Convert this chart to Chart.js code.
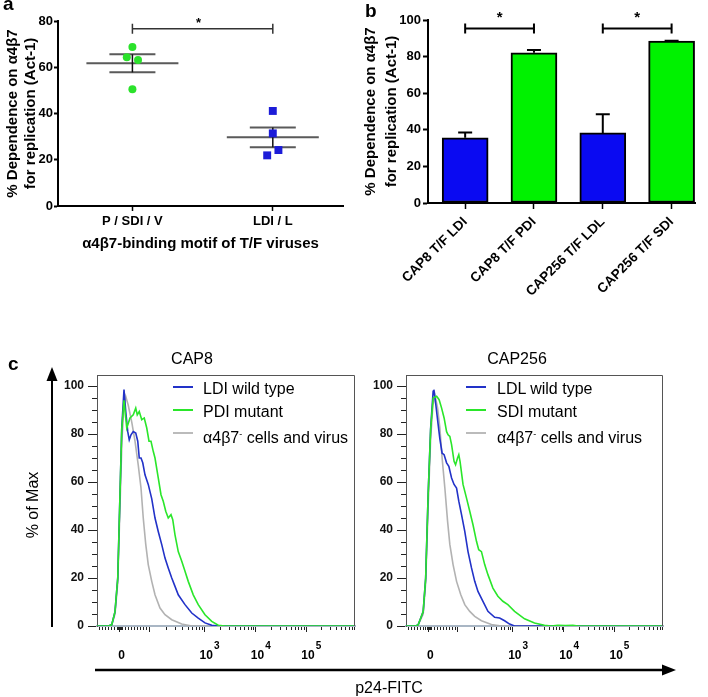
<!DOCTYPE html>
<html>
<head>
<meta charset="utf-8">
<script src="https://cdn.jsdelivr.net/npm/chart.js@4.4.0/dist/chart.umd.min.js"></script>
<style>
  body { margin: 0; background: #fff; }
  #page { position: relative; width: 708px; height: 697px; overflow: hidden; background: #fff;
          font-family: "Liberation Sans", Arial, sans-serif; color: #000; }
  #page canvas { position: absolute; left: 0; top: 0; }
  .txt { position: absolute; white-space: nowrap; }
  .panel { font-size: 19px; font-weight: bold; line-height: 19px; }
  .ttl { font-size: 16px; line-height: 16px; transform: translateX(-50%); }
  .leg { font-size: 16px; line-height: 23px; }
  .legline { position: absolute; width: 20px; height: 2px; }
  sup { font-size: 9px; vertical-align: 6px; }
</style>
</head>
<body>
<div id="page">
  <canvas id="chartA" width="708" height="697"></canvas>
  <canvas id="chartB" width="708" height="697"></canvas>
  <canvas id="chartC1" width="708" height="697"></canvas>
  <canvas id="chartC2" width="708" height="697"></canvas>

  <svg width="708" height="697" style="position:absolute;left:0;top:0">
    <line x1="52" y1="378" x2="52" y2="627" stroke="#000" stroke-width="2"/>
    <polygon points="52,367 46.5,381 57.5,381" fill="#000"/>
    <line x1="95" y1="670" x2="664" y2="670" stroke="#000" stroke-width="2.5"/>
    <polygon points="676,670 662,664.5 662,675.5" fill="#000"/>
  </svg>

  <div class="txt panel" style="left:3px;top:-6px">a</div>
  <div class="txt panel" style="left:365px;top:1px">b</div>
  <div class="txt panel" style="left:8px;top:354px">c</div>

  <div class="txt ttl" style="left:192px;top:351px">CAP8</div>
  <div class="txt ttl" style="left:517px;top:351px">CAP256</div>

  <div class="txt" style="left:33px;top:505px;font-size:16px;line-height:16px;transform:translate(-50%,-50%) rotate(-90deg)">% of Max</div>
  <div class="txt ttl" style="left:389px;top:680px">p24-FITC</div>
</div>

<script>
// ---- panel a : dot plot ----
const motifGroups = ['P / SDI / V', 'LDI / L']
const pdiX = [1.0, 0.96, 1.04, 1.0]
const pdiVals = [68.8, 64.3, 63.1, 50.5]
const ldiX = [2.0, 2.0, 2.04, 1.96]
const ldiVals = [41.1, 31.4, 24.2, 21.9]
const groupMeans = [61.7, 29.7]
const groupSem = [3.9, 4.3]
const sigA = [1, 2, 76.7]

// ---- panel b : bar chart ----
const virusNames = ['CAP8 T/F LDI', 'CAP8 T/F PDI', 'CAP256 T/F LDL', 'CAP256 T/F SDI']
const dependence = [35.6, 82.1, 38.3, 88.5]
const dependenceErr = [2.9, 1.5, 10.2, 0.2]
const sigB = [[1, 2, 95.4], [3, 4, 95.4]]

// ---- panel c : flow histograms (x = display channel, y = % of max) ----
const flowMajorCh = [90, 208, 429, 634, 836]
const flowMajorBase = ['0', '', '10', '10', '10']
const flowMajorExp = ['', '', '3', '4', '5']
const flowYTicks = [0, 20, 40, 60, 80, 100]

const cap8LdiCh = [0, 45, 59, 72, 83, 92, 99, 108, 115, 123, 129, 136, 145, 155, 163, 169, 176, 183, 192, 205, 219, 232, 245, 259, 272, 285, 299, 312, 325, 352, 379, 405, 432, 459, 485, 1032]
const cap8LdiPct = [0, 0, 0.5, 6, 20, 55, 82.5, 98.5, 89.4, 81, 77.6, 79.7, 81, 80.4, 77, 70, 70, 68, 63, 59, 53, 45, 39.4, 33.9, 28.3, 24.2, 20, 16.5, 13, 8.9, 5.4, 3.3, 1.3, 0.3, 0, 0]
const cap8PdiCh = [0, 45, 59, 72, 83, 92, 99, 108, 119, 132, 145, 155, 161, 169, 179, 189, 199, 208, 216, 225, 232, 245, 256, 265, 275, 285, 296, 303, 312, 325, 339, 352, 365, 385, 405, 432, 459, 485, 512, 1032]
const cap8PdiPct = [0, 0, 0.5, 6, 20, 55, 82, 94, 82.5, 86.7, 88, 90.8, 88, 89.4, 86, 86.7, 82.5, 77, 77, 72.8, 70, 61.7, 54.7, 52, 47.8, 45, 46.4, 44.3, 38, 31, 27, 22.8, 18.6, 13, 8.9, 4.7, 1.9, 0.3, 0, 0]
const cap8NegCh = [0, 45, 59, 72, 83, 92, 100, 108, 115, 125, 139, 152, 165, 176, 185, 195, 205, 219, 232, 252, 272, 299, 339, 379, 1032]
const cap8NegPct = [0, 0, 0.5, 5, 18, 50, 78, 92, 95.7, 92, 85, 77, 67, 57.5, 45, 34, 25.6, 18.6, 13, 7.5, 4.7, 2.6, 0.8, 0, 0]

const cap256LdlCh = [0, 40, 49, 69, 79, 89, 99, 109, 112, 120, 129, 136, 145, 153, 163, 172, 183, 193, 203, 212, 223, 236, 249, 263, 276, 289, 309, 329, 356, 376, 396, 416, 436, 1032]
const cap256LdlPct = [0, 0, 0.5, 6, 20, 55, 82.5, 97.8, 98.5, 92, 84, 78, 72, 71.4, 68, 66.5, 61.7, 59, 57.5, 52, 46.4, 39.4, 31, 24.2, 18.6, 14.4, 10.3, 6.1, 3.6, 3.3, 2.2, 0.8, 0, 0]
const cap256SdiCh = [0, 40, 49, 69, 79, 89, 99, 109, 123, 133, 143, 153, 163, 169, 176, 183, 193, 199, 207, 212, 217, 229, 243, 256, 269, 283, 292, 303, 316, 329, 349, 369, 389, 409, 436, 476, 516, 556, 583, 610, 640, 670, 690, 1032]
const cap256SdiPct = [0, 0, 0.5, 6, 20, 55, 82, 95, 95.7, 94.3, 90.8, 86.7, 81, 79.7, 79, 75.6, 68.6, 67.2, 70, 71.4, 68.6, 59, 53.3, 47.8, 42.2, 35.3, 31.8, 31, 25.6, 21.4, 15.8, 12.4, 10.3, 8.9, 6.1, 3, 1.25, 0.3, 0, 0.3, 0.2, 0.3, 0, 0]
const cap256NegCh = [0, 40, 49, 69, 79, 89, 99, 108, 116, 127, 136, 145, 156, 167, 176, 189, 203, 220, 236, 256, 276, 303, 343, 383, 1032]
const cap256NegPct = [0, 0, 0.5, 5, 18, 50, 78, 92, 96.4, 90.8, 82.5, 70, 57.5, 43.6, 34, 25.6, 18.6, 13, 8.9, 6.1, 4, 2.2, 0.6, 0, 0]

const cap8Labels = ['LDI wild type', 'PDI mutant', 'α4β7<sup>-</sup> cells and virus']
const cap256Labels = ['LDL wild type', 'SDI mutant', 'α4β7<sup>-</sup> cells and virus']

const FONT = '"Liberation Sans", Arial, sans-serif'
const BLUE = '#2232c8', GREEN = '#2ae62a', GREY = 'rgba(170,170,170,0.9)'
Chart.defaults.font.family = FONT
Chart.defaults.color = '#000'

const bold = size => ({ family: FONT, size: size, weight: 'bold' })
const zip = (xs, ys) => xs.map((x, i) => ({ x: x, y: ys[i] }))
const flat = s => { s.paddingLeft = 0; s.paddingRight = 0; s.paddingTop = 0; s.paddingBottom = 0 }
const baseOpts = { responsive: false, maintainAspectRatio: false, animation: false, events: [] }
const noPlugins = { legend: { display: false }, tooltip: { enabled: false } }

// mean / sem lines and bracket for panel a
const dotSummary = {
  id: 'dotSummary',
  beforeDatasetsDraw(chart) {
    const { ctx, scales: { x, y } } = chart
    ctx.save()
    groupMeans.forEach((m, i) => {
      const cx = x.getPixelForValue(i + 1)
      const ym = y.getPixelForValue(m)
      const yt = y.getPixelForValue(m + groupSem[i])
      const yb = y.getPixelForValue(m - groupSem[i])
      ctx.strokeStyle = '#5a5a5a'
      ctx.lineWidth = 2
      ctx.beginPath()
      ctx.moveTo(cx - 46, ym); ctx.lineTo(cx + 46, ym)
      ctx.moveTo(cx - 23, yt); ctx.lineTo(cx + 23, yt)
      ctx.moveTo(cx - 23, yb); ctx.lineTo(cx + 23, yb)
      ctx.stroke()
      ctx.strokeStyle = '#111'
      ctx.lineWidth = 1.5
      ctx.beginPath(); ctx.moveTo(cx, yt); ctx.lineTo(cx, yb); ctx.stroke()
    })
    const x1 = x.getPixelForValue(sigA[0]), x2 = x.getPixelForValue(sigA[1]), ys = y.getPixelForValue(sigA[2])
    ctx.strokeStyle = '#333'
    ctx.lineWidth = 1.5
    ctx.beginPath()
    ctx.moveTo(x1, ys); ctx.lineTo(x2, ys)
    ctx.moveTo(x1, ys - 5); ctx.lineTo(x1, ys + 5)
    ctx.moveTo(x2, ys - 5); ctx.lineTo(x2, ys + 5)
    ctx.stroke()
    ctx.fillStyle = '#000'
    ctx.font = 'bold 13px ' + FONT
    ctx.textAlign = 'center'
    ctx.fillText('*', (x1 + x2) / 2 - 4, ys - 2)
    ctx.restore()
  }
}

// error bars and brackets for panel b
const barExtras = {
  id: 'barExtras',
  afterDatasetsDraw(chart) {
    const { ctx, scales: { x, y } } = chart
    ctx.save()
    ctx.strokeStyle = '#000'
    ctx.lineWidth = 2
    ctx.beginPath()
    dependence.forEach((v, i) => {
      const cx = x.getPixelForValue(i + 1)
      const y0 = y.getPixelForValue(v), y1 = y.getPixelForValue(v + dependenceErr[i])
      ctx.moveTo(cx, y0); ctx.lineTo(cx, y1)
      ctx.moveTo(cx - 7, y1); ctx.lineTo(cx + 7, y1)
    })
    sigB.forEach(s => {
      const x1 = x.getPixelForValue(s[0]), x2 = x.getPixelForValue(s[1]), ys = y.getPixelForValue(s[2])
      ctx.moveTo(x1, ys); ctx.lineTo(x2, ys)
      ctx.moveTo(x1, ys - 5); ctx.lineTo(x1, ys + 5)
      ctx.moveTo(x2, ys - 5); ctx.lineTo(x2, ys + 5)
    })
    ctx.stroke()
    ctx.fillStyle = '#000'
    ctx.font = 'bold 15px ' + FONT
    ctx.textAlign = 'center'
    sigB.forEach(s => {
      const x1 = x.getPixelForValue(s[0]), x2 = x.getPixelForValue(s[1])
      ctx.fillText('*', (x1 + x2) / 2, y.getPixelForValue(s[2]) - 6)
    })
    ctx.restore()
  }
}

// minor ticks between the major flow channels (biexponential look)
const flowMax = 1032
const flowMinor = (() => {
  const out = []
  const step = (flowMajorCh[1] - flowMajorCh[0]) / 10
  for (let k = -7; k <= 9; k++) if (k !== 0) out.push(flowMajorCh[0] + k * step)
  ;[-0.6, -0.3, 0.3, 0.6].forEach(d => out.push(flowMajorCh[0] + d * step))
  for (let i = 1; i < flowMajorCh.length; i++) {
    const p0 = flowMajorCh[i]
    const w = i + 1 < flowMajorCh.length ? flowMajorCh[i + 1] - p0 : p0 - flowMajorCh[i - 1]
    for (let k = 2; k <= 9; k++) {
      const v = p0 + Math.log10(k) * w
      if (v < flowMax) out.push(v)
    }
  }
  return out
})()

const flowFrame = {
  id: 'flowFrame',
  afterDraw(chart) {
    const { ctx, chartArea: a, scales: { x, y } } = chart
    ctx.save()
    ctx.strokeStyle = '#555'
    ctx.lineWidth = 1
    ctx.beginPath()
    ctx.moveTo(a.left, a.top + 0.5); ctx.lineTo(a.right - 0.5, a.top + 0.5); ctx.lineTo(a.right - 0.5, a.bottom)
    ctx.stroke()
    ctx.strokeStyle = '#222'
    ctx.beginPath()
    flowMinor.forEach(v => {
      const px = Math.round(x.getPixelForValue(v)) + 0.5
      ctx.moveTo(px, a.bottom + 1); ctx.lineTo(px, a.bottom + 4)
    })
    for (let v = 5; v < 100; v += 5) {
      if (v % 20 === 0) continue
      const py = Math.round(y.getPixelForValue(v)) + 0.5
      ctx.moveTo(a.left - 5, py); ctx.lineTo(a.left, py)
    }
    ctx.stroke()
    ctx.fillStyle = '#000'
    flowMajorCh.forEach((v, i) => {
      if (!flowMajorBase[i]) return
      const px = x.getPixelForValue(v)
      ctx.font = 'bold 12px ' + FONT
      ctx.textAlign = 'center'
      ctx.fillText(flowMajorBase[i], px + 2, a.bottom + 33)
      if (flowMajorExp[i]) {
        const w = ctx.measureText(flowMajorBase[i]).width
        ctx.font = 'bold 10px ' + FONT
        ctx.textAlign = 'left'
        ctx.fillText(flowMajorExp[i], px + 2 + w / 2 + 1, a.bottom + 23)
      }
    })
    ctx.restore()
  }
}

// panel a
new Chart(document.getElementById('chartA'), {
  type: 'scatter',
  data: {
    datasets: [
      { data: zip(pdiX, pdiVals), pointStyle: 'circle', pointRadius: 4, backgroundColor: '#2be22b', borderColor: '#2be22b', borderWidth: 0 },
      { data: zip(ldiX, ldiVals), pointStyle: 'rect', pointRadius: 5.6, backgroundColor: '#1c1cd8', borderColor: '#1c1cd8', borderWidth: 0 }
    ]
  },
  options: Object.assign({}, baseOpts, {
    layout: { padding: { left: 4, top: 21, right: 365, bottom: 441 } },
    plugins: noPlugins,
    scales: {
      x: {
        type: 'linear', min: 0.47, max: 2.5,
        afterBuildTicks: s => { s.ticks = motifGroups.map((_, i) => ({ value: i + 1 })) },
        ticks: { callback: v => motifGroups[v - 1], font: bold(13), color: '#000', padding: 3, autoSkip: false, maxRotation: 0 },
        grid: { drawOnChartArea: false, tickLength: 5, tickColor: '#000', tickWidth: 1.5 },
        border: { color: '#000', width: 2 },
        title: { display: true, text: 'α4β7-binding motif of T/F viruses', font: bold(15), color: '#000', padding: { top: 0, bottom: 3 } },
        afterFit: s => { s.height = 50; flat(s) }
      },
      y: {
        min: 0, max: 80,
        ticks: { stepSize: 20, font: bold(13), color: '#000', padding: 1 },
        grid: { drawOnChartArea: false, tickLength: 4, tickColor: '#000', tickWidth: 2 },
        border: { color: '#000', width: 2 },
        title: { display: true, text: ['% Dependence on α4β7', 'for replication (Act-1)'], font: Object.assign(bold(15), { lineHeight: 1.2 }), color: '#000', padding: 0 },
        afterFit: s => { s.width = 54; flat(s) }
      }
    }
  }),
  plugins: [dotSummary]
})

// panel b
const barFill = ['#0a0af2', '#00f200', '#0a0af2', '#00f200']
new Chart(document.getElementById('chartB'), {
  type: 'bar',
  data: {
    datasets: [{
      data: zip(virusNames.map((_, i) => i + 1), dependence),
      backgroundColor: barFill, borderColor: '#000', borderWidth: 2, borderSkipped: false, barThickness: 46
    }]
  },
  options: Object.assign({}, baseOpts, {
    layout: { padding: { left: 360, top: 20, right: 13, bottom: 399 } },
    plugins: noPlugins,
    scales: {
      x: {
        type: 'linear', min: 0.46, max: 4.34, offset: false,
        afterBuildTicks: s => { s.ticks = virusNames.map((_, i) => ({ value: i + 1 })) },
        ticks: { callback: v => virusNames[v - 1], font: bold(13.5), color: '#000', padding: 5, autoSkip: false, minRotation: 45, maxRotation: 45 },
        grid: { offset: false, drawOnChartArea: false, tickLength: 6, tickColor: '#000', tickWidth: 1.5 },
        border: { color: '#000', width: 2 },
        afterFit: s => { s.height = 95; flat(s) }
      },
      y: {
        min: 0, max: 100,
        ticks: { stepSize: 20, font: bold(13), color: '#000', padding: 2 },
        grid: { drawOnChartArea: false, tickLength: 5, tickColor: '#000', tickWidth: 2 },
        border: { color: '#000', width: 2 },
        title: { display: true, text: ['% Dependence on α4β7', 'for replication (Act-1)'], font: Object.assign(bold(15), { lineHeight: 1.4 }), color: '#000', padding: 0 },
        afterFit: s => { s.width = 68; flat(s) }
      }
    }
  }),
  plugins: [barExtras]
})

// panel c
function flowChart(id, series, padLeft, axisWidth, padRight) {
  return new Chart(document.getElementById(id), {
    type: 'line',
    data: {
      datasets: series.map(s => ({
        data: zip(s[0], s[1]), borderColor: s[2], borderWidth: 1.6, pointRadius: 0, tension: 0, fill: false
      }))
    },
    options: Object.assign({}, baseOpts, {
      layout: { padding: { left: padLeft, top: 375, right: padRight, bottom: 31 } },
      plugins: noPlugins,
      scales: {
        x: {
          type: 'linear', min: 0, max: flowMax,
          afterBuildTicks: s => { s.ticks = flowMajorCh.map(v => ({ value: v })) },
          ticks: { display: false },
          grid: { drawOnChartArea: false, tickLength: 6, tickColor: '#222', tickWidth: 1 },
          border: { color: '#a9b6c4', width: 2 },
          afterFit: s => { s.height = 40; flat(s) }
        },
        y: {
          min: 0, max: 104.6,
          afterBuildTicks: s => { s.ticks = flowYTicks.map(v => ({ value: v })) },
          ticks: { font: bold(12), color: '#111', padding: 4 },
          grid: { drawOnChartArea: false, tickLength: 9, tickColor: '#222', tickWidth: 1 },
          border: { color: '#555', width: 1 },
          afterFit: s => { s.width = axisWidth; flat(s) }
        }
      }
    }),
    plugins: [flowFrame]
  })
}

// draw order: green, blue, grey on top
flowChart('chartC1', [[cap8PdiCh, cap8PdiPct, GREEN], [cap8LdiCh, cap8LdiPct, BLUE], [cap8NegCh, cap8NegPct, GREY]], 50, 47, 353)
flowChart('chartC2', [[cap256SdiCh, cap256SdiPct, GREEN], [cap256LdlCh, cap256LdlPct, BLUE], [cap256NegCh, cap256NegPct, GREY]], 360, 46, 45)

// legends inside the flow plots
const legendColors = [BLUE, GREEN, '#bbbbbb']
const addLegend = (labels, lineX, textX) => {
  const page = document.getElementById('page')
  labels.forEach((lab, i) => {
    const line = document.createElement('div')
    line.className = 'legline'
    line.style.left = lineX + 'px'
    line.style.top = (386 + i * 23) + 'px'
    line.style.background = legendColors[i]
    page.appendChild(line)
    const t = document.createElement('div')
    t.className = 'txt leg'
    t.style.left = textX + 'px'
    t.style.top = (377 + i * 23) + 'px'
    t.innerHTML = lab
    page.appendChild(t)
  })
}
addLegend(cap8Labels, 173, 203)
addLegend(cap256Labels, 466, 497)
</script>
</body>
</html>
